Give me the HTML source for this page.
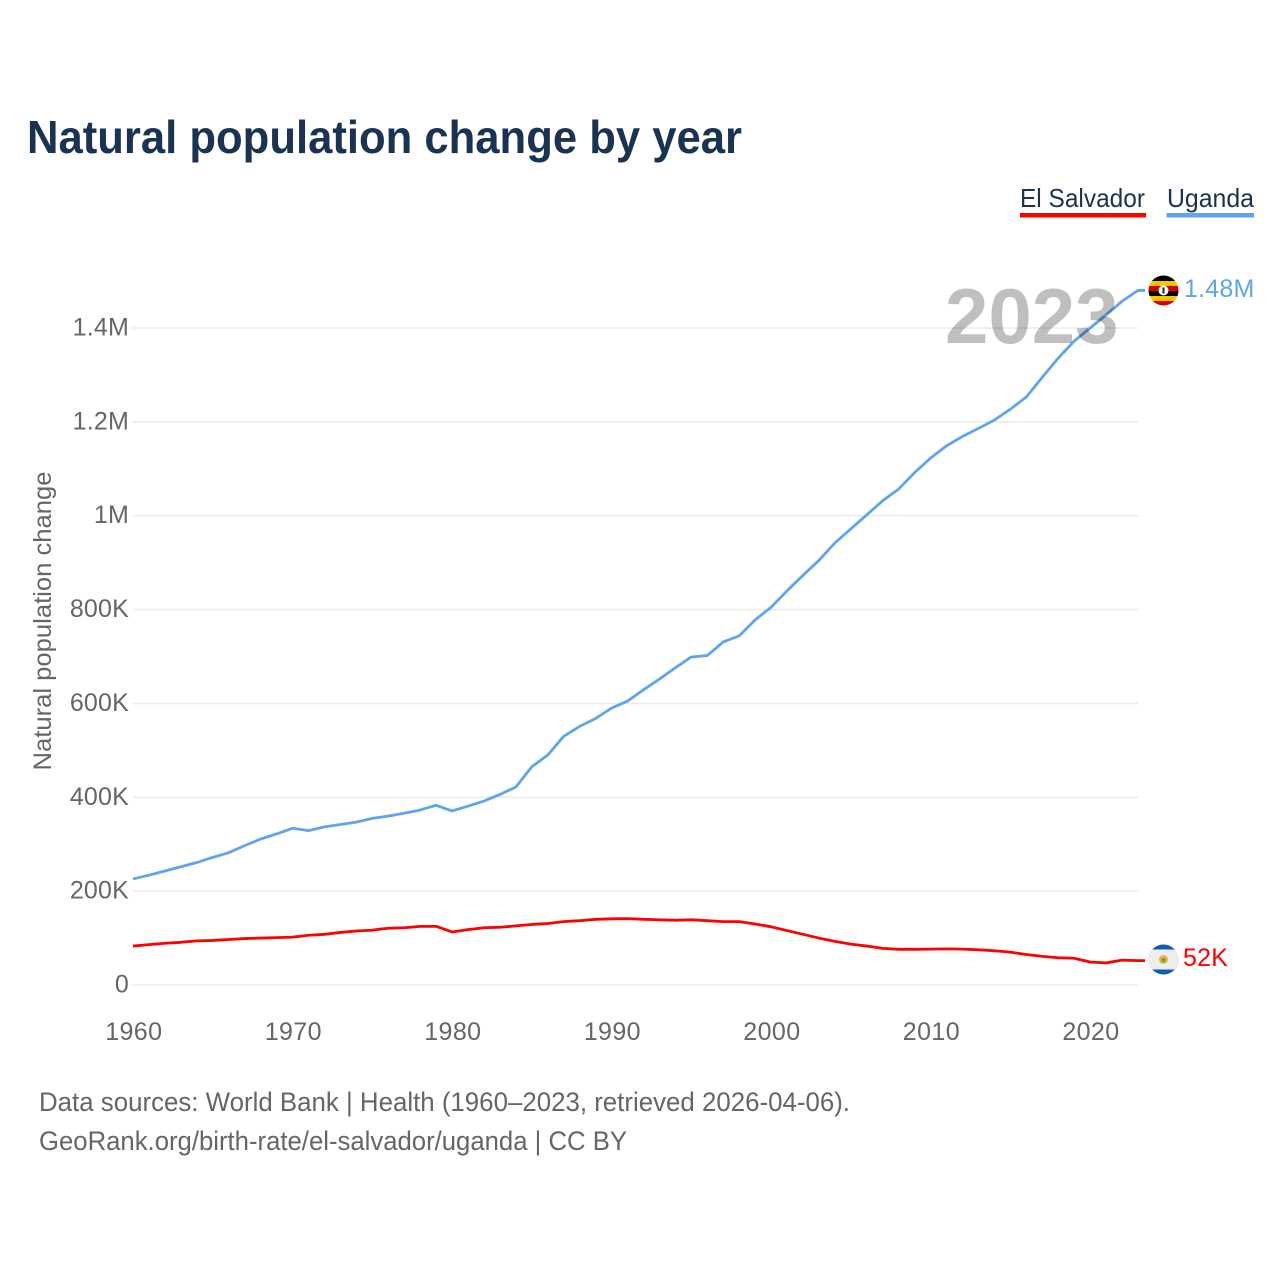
<!DOCTYPE html>
<html lang="en">
<head>
<meta charset="utf-8">
<title>Natural population change by year</title>
<style>
html,body{margin:0;padding:0;background:#fff;width:1280px;height:1280px;overflow:hidden}
svg{display:block;font-family:"Liberation Sans",sans-serif}
</style>
</head>
<body>
<svg id="chart" xmlns="http://www.w3.org/2000/svg" width="1280" height="1280" viewBox="0 0 1280 1280">
  <defs>
    <clipPath id="clip-ug"><circle cx="1163.5" cy="290.5" r="15"/></clipPath>
    <clipPath id="clip-sv"><circle cx="1163.5" cy="959.5" r="15"/></clipPath>
  </defs>
  <rect width="1280" height="1280" fill="#fff"/>
  <text x="27" y="153" font-size="46" font-weight="700" fill="#1a3353" textLength="715" lengthAdjust="spacingAndGlyphs">Natural population change by year</text>

  <g>
    <text x="1020" y="207" font-size="26" fill="#1a3353" textLength="125" lengthAdjust="spacingAndGlyphs">El Salvador</text>
    <rect x="1020" y="213" width="126" height="4.5" fill="#ff0000"/>
  </g>
  <g>
    <text x="1167" y="207" font-size="26" fill="#1a3353" textLength="87" lengthAdjust="spacingAndGlyphs">Uganda</text>
    <rect x="1166.5" y="213" width="87.5" height="4.5" fill="#5fa5ee"/>
  </g>

  <g id="grid"></g>
  <g id="yticks"></g>
  <g id="xticks"></g>
  <text transform="translate(51 621) rotate(-90)" text-anchor="middle" font-size="25" fill="#666" textLength="299" lengthAdjust="spacingAndGlyphs">Natural population change</text>
  <g id="series"></g>

  <text x="945" y="343" font-size="78" font-weight="700" fill="#000" fill-opacity="0.25">2023</text>

  <g clip-path="url(#clip-ug)">
    <rect x="1148" y="275" width="31" height="6" fill="#000"/>
    <rect x="1148" y="281" width="31" height="5" fill="#f7c600"/>
    <rect x="1148" y="286" width="31" height="5" fill="#d90000"/>
    <rect x="1148" y="291" width="31" height="5" fill="#000"/>
    <rect x="1148" y="296" width="31" height="5" fill="#f7c600"/>
    <rect x="1148" y="301" width="31" height="5" fill="#d90000"/>
    <circle cx="1163.5" cy="290.5" r="5" fill="#fff"/>
    <rect x="1162.5" y="287.5" width="2" height="6" fill="#222"/>
  </g>
  <g clip-path="url(#clip-sv)">
    <rect x="1148" y="944" width="31" height="31" fill="#0f5bb5"/>
    <rect x="1148" y="949.5" width="31" height="20" fill="#eeeeee"/>
    <circle cx="1163.5" cy="959.5" r="4.5" fill="#e3b93c"/>
    <circle cx="1163.5" cy="960" r="2" fill="#7a9a3c"/>
  </g>
  <text id="label-ug" x="1184" y="297" font-size="25" letter-spacing="0.2" fill="#5fa5ee"></text>
  <text id="label-sv" x="1183" y="966" font-size="25" letter-spacing="0.2" fill="#ff0000"></text>

  <text x="39" y="1111" font-size="27" fill="#666" textLength="811" lengthAdjust="spacingAndGlyphs">Data sources: World Bank | Health (1960–2023, retrieved 2026-04-06).</text>
  <text x="39" y="1150" font-size="27" fill="#666" textLength="588" lengthAdjust="spacingAndGlyphs">GeoRank.org/birth-rate/el-salvador/uganda | CC BY</text>
</svg>
<script>
const years = [1960,1961,1962,1963,1964,1965,1966,1967,1968,1969,1970,1971,1972,1973,1974,1975,1976,1977,1978,1979,1980,1981,1982,1983,1984,1985,1986,1987,1988,1989,1990,1991,1992,1993,1994,1995,1996,1997,1998,1999,2000,2001,2002,2003,2004,2005,2006,2007,2008,2009,2010,2011,2012,2013,2014,2015,2016,2017,2018,2019,2020,2021,2022,2023];
const ugandaValues = [226,234,243,252,261,272,282,297,311,322,334,329,337,342,347,355,360,366,373,383,371,381,392,406,422,465,490,530,551,568,590,605,629,652,676,699,702,731,744,778,805,840,873,905,942,972,1002,1032,1057,1092,1123,1149,1169,1186,1204,1227,1253,1295,1336,1372,1400,1428,1457,1480];
const salvadorValues = [83,86,89,91,94,95,97,99,100,101,102,106,108,112,115,117,121,122,125,125,113,118,122,123,126,129,131,135,137,140,141,141.5,140,139,138,139,137,135,135,130,124,116,108,100,93,87,83,78,76,76,76.5,77,76.5,75,73,70,65,61,58,57,49,47,53,52];
const yTickValues = [0,200,400,600,800,1000,1200,1400];
const yTickLabels = ["0","200K","400K","600K","800K","1M","1.2M","1.4M"];
const xTickValues = [1960,1970,1980,1990,2000,2010,2020];
const ugandaEndLabel = "1.48M";
const salvadorEndLabel = "52K";

const NS = "http://www.w3.org/2000/svg";
function xScale(year){ return 133 + (year - 1960) * (1138 - 133) / 63; }
function yScale(v){ return 985 - v * (985 - 328) / 1400; }
function make(tag, parent){
  const el = document.createElementNS(NS, tag);
  parent.appendChild(el);
  return el;
}
const gridG = document.getElementById("grid");
const yG = document.getElementById("yticks");
const xG = document.getElementById("xticks");
const seriesG = document.getElementById("series");

yTickValues.forEach(function(v, i){
  const line = make("line", gridG);
  
  
  line.setAttribute("x1", 133);
  line.setAttribute("x2", 1138);
  line.setAttribute("y1", yScale(v));
  line.setAttribute("y2", yScale(v));
  line.setAttribute("stroke", "#ececec");
  line.setAttribute("stroke-width", "1.6");
  const t = make("text", yG);
  
  
  t.setAttribute("x", 129);
  t.setAttribute("y", yScale(v) + 7.5);
  t.setAttribute("text-anchor", "end");
  t.setAttribute("font-size", "25");
  t.setAttribute("letter-spacing", "0.2");
  t.setAttribute("fill", "#666");
  t.textContent = yTickLabels[i];
});

xTickValues.forEach(function(y){
  const t = make("text", xG);
  
  
  t.setAttribute("x", xScale(y) + 0.8);
  t.setAttribute("y", 1040);
  t.setAttribute("text-anchor", "middle");
  t.setAttribute("font-size", "25");
  t.setAttribute("letter-spacing", "0.4");
  t.setAttribute("fill", "#666");
  t.textContent = String(y);
});

function linePath(values){
  return values.map(function(v, i){
    return (i ? "L" : "M") + xScale(years[i]).toFixed(2) + " " + yScale(v).toFixed(2);
  }).join(" ");
}

const ugLine = make("path", seriesG);


ugLine.setAttribute("d", linePath(ugandaValues) + " h7");
ugLine.setAttribute("fill", "none");
ugLine.setAttribute("stroke", "#5fa5ee");
ugLine.setAttribute("stroke-width", "2.8");
ugLine.setAttribute("stroke-linejoin", "round");

const svLine = make("path", seriesG);


svLine.setAttribute("d", linePath(salvadorValues) + " h7");
svLine.setAttribute("fill", "none");
svLine.setAttribute("stroke", "#ff0000");
svLine.setAttribute("stroke-width", "2.8");
svLine.setAttribute("stroke-linejoin", "round");

document.getElementById("label-ug").textContent = ugandaEndLabel;
document.getElementById("label-sv").textContent = salvadorEndLabel;
</script>
</body>
</html>
